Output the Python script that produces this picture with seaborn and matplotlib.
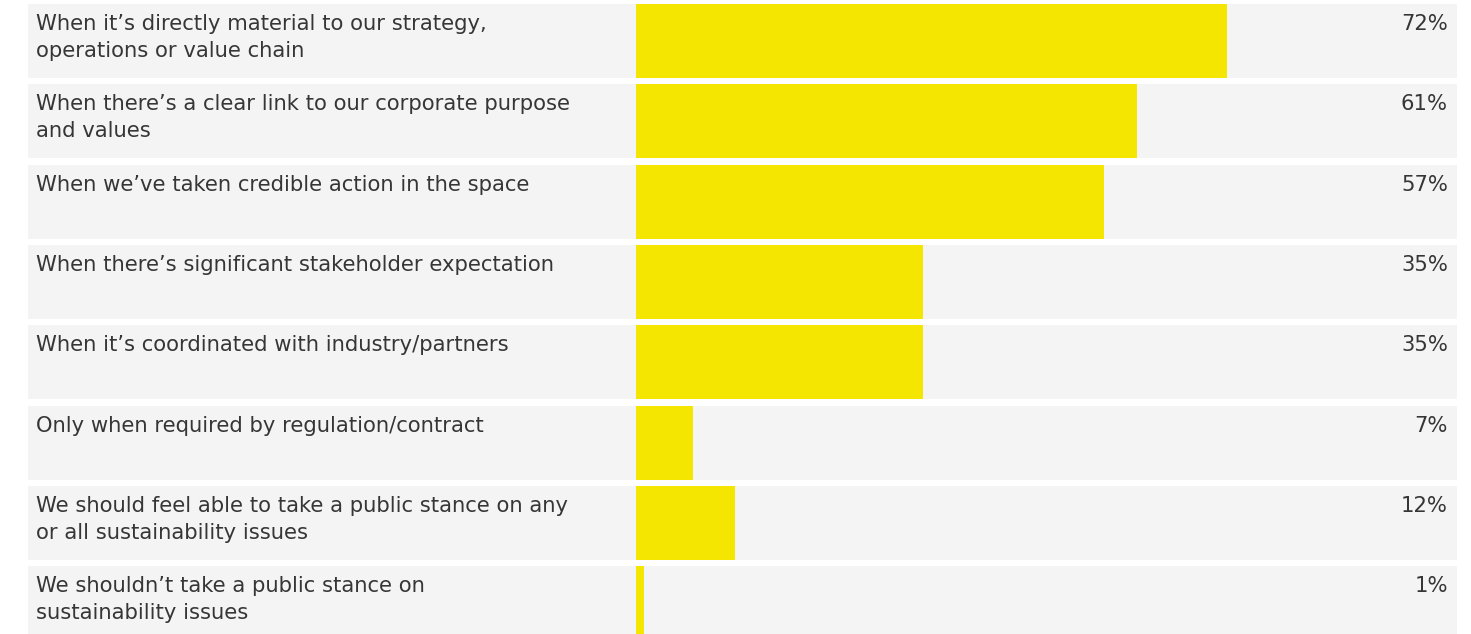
import matplotlib
matplotlib.use("Agg")
import matplotlib.pyplot as plt
import seaborn as sns
import pandas as pd

categories = [
    "When it\u2019s directly material to our strategy,\noperations or value chain",
    "When there\u2019s a clear link to our corporate purpose\nand values",
    "When we\u2019ve taken credible action in the space",
    "When there\u2019s significant stakeholder expectation",
    "When it\u2019s coordinated with industry/partners",
    "Only when required by regulation/contract",
    "We should feel able to take a public stance on any\nor all sustainability issues",
    "We shouldn\u2019t take a public stance on\nsustainability issues",
]
values = [72, 61, 57, 35, 35, 7, 12, 1]
value_labels = ["72%", "61%", "57%", "35%", "35%", "7%", "12%", "1%"]

YELLOW = "#f4e600"
GRAY = "#f4f4f4"
TEXT = "#363636"

sns.set_theme(style="white")
plt.rcParams["font.family"] = ["DejaVu Sans"]

W, H = 1471, 634
fig = plt.figure(figsize=(W / 100, H / 100), dpi=100)
ax = fig.add_axes([0, 0, 1, 1])

df = pd.DataFrame({"label": categories, "value": values})

px_per_unit = (1457 - 636) / 100.0
pitch = 80.3
bar_h = 74 / pitch

n = len(categories)
# background rows
bg_left = (28 - 636) / px_per_unit
ax.barh(range(n), [100 - bg_left] * n, left=bg_left, height=bar_h,
        color=GRAY, zorder=0.5, linewidth=0)

sns.barplot(data=df, x="value", y="label", orient="h", color=YELLOW,
            width=bar_h, saturation=1, ax=ax, zorder=1, linewidth=0)

ax.set_xlim(-636 / px_per_unit, (W - 636) / px_per_unit)
top = -41 / pitch
ax.set_ylim(top + H / pitch, top)

FS = 15.2
label_x = (36 - 636) / px_per_unit
val_x = (1448 - 636) / px_per_unit
for i, (lab, vl) in enumerate(zip(categories, value_labels)):
    row_top = i - 37 / pitch
    for j, line in enumerate(lab.split("\n")):
        ax.text(label_x, row_top + (26 + 27 * j) / pitch, line, ha="left",
                va="baseline", fontsize=FS, color=TEXT)
    ax.text(val_x, row_top + 26 / pitch, vl, ha="right", va="baseline",
            fontsize=FS, color=TEXT)

ax.axis("off")
fig.savefig("out.png", dpi=100, facecolor="white")
